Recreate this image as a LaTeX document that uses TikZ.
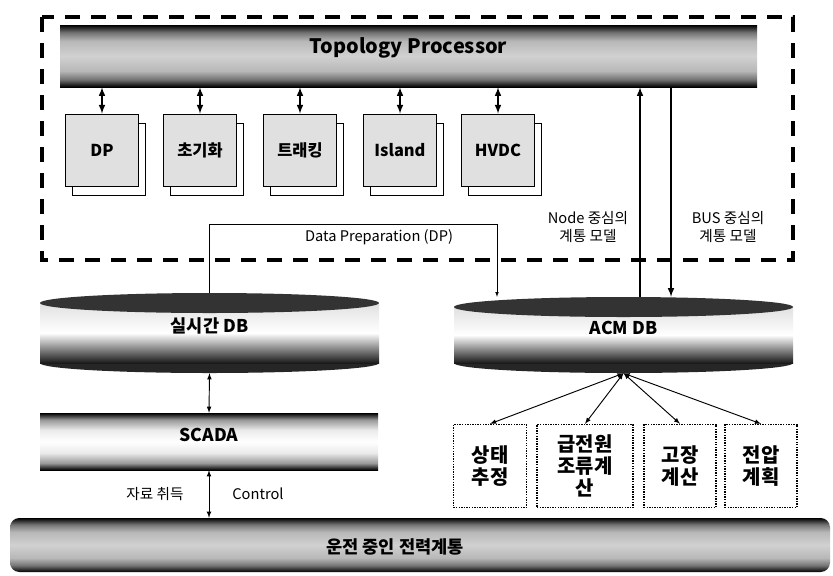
\documentclass[tikz,border=0pt]{standalone}
\usepackage{fontspec}
\setmainfont{Noto Sans CJK KR}
\usepackage{tikz}
\usetikzlibrary{arrows}
\usetikzlibrary{fit}
\usetikzlibrary{shadows}

\pgfdeclareverticalshading{grayband}{100bp}{color(0bp)=(black); color(25bp)=(black);
  color(31bp)=(black!55); color(38bp)=(black!28); color(50bp)=(black!18); color(62bp)=(black!28);
  color(69bp)=(black!55); color(75bp)=(black); color(100bp)=(black)}
\pgfdeclareverticalshading{whiteband}{100bp}{color(0bp)=(black); color(25bp)=(black);
  color(31bp)=(black!40); color(40bp)=(black!8); color(50bp)=(white); color(60bp)=(black!8);
  color(69bp)=(black!40); color(75bp)=(black); color(100bp)=(black)}

% flat database disk: left, right, top, bottom
\newcommand{\dbdisk}[4]{%
  \fill[black!85] ({(#1+#2)/2},#4-10) ellipse ({(#2-#1)/2} and 10);
  \shade[top color=black!12, bottom color=black!90, middle color=white] (#1,#3+10) rectangle (#2,#4-10);
  \fill[black!80] ({(#1+#2)/2},#3+10) ellipse ({(#2-#1)/2} and 10);
}

\begin{document}
\begin{tikzpicture}[x=0.03cm, y=-0.03cm, >=latex,
    bar/.style={inner sep=0pt, shading=#1, font=\bfseries\fontsize{15}{18}\selectfont},
    module/.style={draw, thick, fill=black!12, minimum width=2.19cm, minimum height=2.16cm,
      general shadow={draw, thick, fill=white, shadow xshift=0.21cm, shadow yshift=-0.27cm},
      font=\bfseries\fontsize{14}{16}\selectfont},
    task/.style={draw, densely dotted, very thick, fill=white, minimum height=2.49cm,
      align=center, font=\bfseries\fontsize{17}{19}\selectfont},
    lbl/.style={align=center, font=\fontsize{12.5}{15}\selectfont}]

      \useasboundingbox (0,0) rectangle (833,575);

      % Topology processor area
      \draw [line width=3.5pt, dash pattern=on 0.45cm off 0.33cm] (42,17) rectangle (793,260);
      \node [bar=grayband, fit={(60,25) (757,87)}] (tp) {\fontsize{17}{20}\selectfont Topology Processor};

      \node [module] (dp) at (102,150) {DP};
      \node [module] (init) at (200,150) {초기화};
      \node [module] (track) at (300,150) {트래킹};
      \node [module] (island) at (400,150) {Island};
      \node [module] (hvdc) at (498,150) {HVDC};
      \foreach \m in {dp,init,track,island,hvdc}
        \draw [<->, line width=1.5pt] (\m.north |- tp.south) -- (\m.north);

      % databases
      \dbdisk{40}{379}{293}{373}
      \dbdisk{454}{793}{297}{373}
      \node [fit={(40,293) (379,373)}, inner sep=0pt, font=\bfseries\fontsize{15}{18}\selectfont] (rtdb) {실시간 DB};
      \node [fit={(454,297) (793,373)}, inner sep=0pt, font=\bfseries\fontsize{15}{18}\selectfont] (acmdb) {ACM DB};

      \coordinate (dpturn) at (497,224);
      \draw [->] (rtdb.north) |- (dpturn) -- (dpturn |- acmdb.north);
      \node [lbl] (dplbl) at (379,237) {Data Preparation (DP)};

      \coordinate (nodex) at (640,0);
      \coordinate (busx) at (671,0);
      \draw [->, line width=1.5pt] (nodex |- acmdb.north) -- (nodex |- tp.south);
      \draw [->, line width=1.5pt] (busx |- tp.south) -- (busx |- acmdb.north);
      \node [lbl] (nodelbl) at (588,227) {Node 중심의\\계통 모델};
      \node [lbl] (buslbl) at (728,227) {BUS 중심의\\계통 모델};

      % SCADA and power system
      \node [bar=whiteband, fit={(40,413) (378,470)}] (scada) {SCADA};
      \node [bar=grayband, rounded corners=8pt, fit={(10,518) (830,572)}] (grid) {};
      \node [font=\bfseries\fontsize{15}{18}\selectfont] (gridlbl) at (395,547) {운전 중인 전력계통};
      \draw [<->, thick] (rtdb.south) -- (scada.north);
      \draw [<->, thick] (scada.south) -- (scada.south |- grid.north);
      \node [lbl] (acq) at (155,494) {자료 취득};
      \node [lbl] (ctrl) at (258,494) {Control};

      % applications
      \node [task, minimum width=2.19cm] (se) at (490,466) {상태\\추정};
      \node [task, minimum width=2.88cm] (pf) at (585,466) {급전원\\조류계\\산};
      \node [task, minimum width=2.16cm] (fault) at (680,466) {고장\\계산};
      \node [task, minimum width=2.16cm] (volt) at (761,466) {전압\\계획};
      \foreach \t in {se,pf,fault,volt}
        \draw [<->, thick] (acmdb.south) -- (\t.north);

    \end{tikzpicture}
\end{document}
